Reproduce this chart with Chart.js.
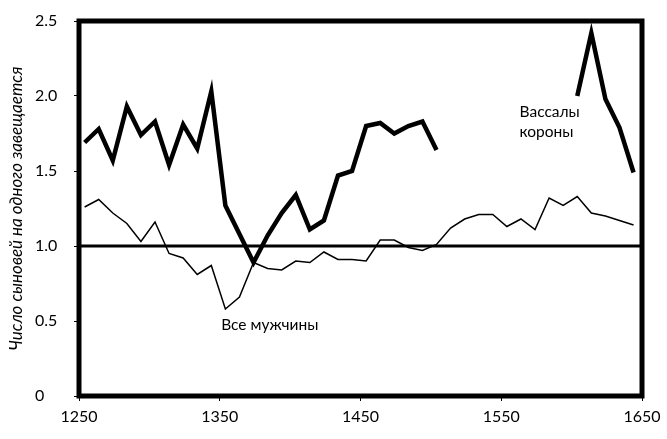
<!DOCTYPE html>
<html>
<head>
<meta charset="utf-8">
<script src="https://cdn.jsdelivr.net/npm/chart.js@4.4.1/dist/chart.umd.min.js"></script>
<style>
  html, body { margin: 0; padding: 0; background: #fff; }
  #wrap { width: 667px; height: 439px; }
</style>
</head>
<body>
<div id="wrap"><canvas id="grafica" width="667" height="439"></canvas></div>
<script>
// годы (середина десятилетия)
const anos = [1254, 1264, 1274, 1284, 1294, 1304, 1314, 1324, 1334, 1344,
              1354, 1364, 1374, 1384, 1394, 1404, 1414, 1424, 1434, 1444,
              1454, 1464, 1474, 1484, 1494, 1504, 1514, 1524, 1534, 1544,
              1554, 1564, 1574, 1584, 1594, 1604, 1614, 1624, 1634, 1644];

const vasallos = [1.69, 1.78, 1.57, 1.93, 1.74, 1.83, 1.54, 1.81, 1.65, 2.03,
                  1.27, 1.08, 0.89, 1.07, 1.22, 1.34, 1.11, 1.17, 1.47, 1.50,
                  1.80, 1.82, 1.75, 1.80, 1.83, 1.64, null, null, null, null,
                  null, null, null, null, null, 2.00, 2.42, 1.98, 1.79, 1.49];

const todos = [1.26, 1.31, 1.22, 1.15, 1.03, 1.16, 0.95, 0.92, 0.81, 0.87,
               0.58, 0.66, 0.89, 0.85, 0.84, 0.90, 0.89, 0.96, 0.91, 0.91,
               0.90, 1.04, 1.04, 0.99, 0.97, 1.01, 1.12, 1.18, 1.21, 1.21,
               1.13, 1.18, 1.11, 1.32, 1.27, 1.33, 1.22, 1.20, 1.17, 1.14];

const lineaBase = [{x: 1250, y: 1}, {x: 1650, y: 1}];

const yEtiquetas = ["0", "0.5", "1.0", "1.5", "2.0", "2.5"];
const xEtiquetas = ["1250", "1350", "1450", "1550", "1650"];
const tituloY = "Число сыновей на одного завещается";

// подписи кривых: [текст, год, значение]
const notas = [
  ["Вассалы", 1563, 1.86],
  ["короны", 1563, 1.73],
  ["Все мужчины", 1351, 0.44]
];

const fuente = "Lato, 'Open Sans', sans-serif";

const marco = {
  id: "marco",
  afterDraw(chart) {
    const ctx = chart.ctx;
    const a = chart.chartArea;
    ctx.save();
    ctx.strokeStyle = "#000";
    ctx.lineWidth = 5;
    ctx.strokeRect(a.left, a.top, a.right - a.left, a.bottom - a.top);

    ctx.fillStyle = "#000";
    ctx.font = "15.5px " + fuente;
    ctx.textBaseline = "alphabetic";
    ctx.textAlign = "left";
    notas.forEach(n => {
      const x = chart.scales.x.getPixelForValue(n[1]);
      const y = chart.scales.y.getPixelForValue(n[2]);
      ctx.fillText(n[0], x, y);
    });

    ctx.translate(17, (a.top + a.bottom) / 2);
    ctx.rotate(-Math.PI / 2);
    ctx.font = "italic 17px " + fuente;
    ctx.textAlign = "center";
    ctx.textBaseline = "middle";
    ctx.fillText(tituloY, 0, 0);
    ctx.restore();
  }
};

const ctx = document.getElementById("grafica").getContext("2d");
new Chart(ctx, {
  type: "line",
  data: {
    labels: anos,
    datasets: [
      {
        data: anos.map((a, i) => ({x: a, y: vasallos[i]})),
        borderColor: "#000",
        borderWidth: 4.5,
        pointRadius: 0,
        spanGaps: false,
        borderJoinStyle: "miter"
      },
      {
        data: anos.map((a, i) => ({x: a, y: todos[i]})),
        borderColor: "#000",
        borderWidth: 1.5,
        pointRadius: 0
      },
      {
        data: lineaBase,
        borderColor: "#000",
        borderWidth: 3,
        pointRadius: 0
      }
    ]
  },
  options: {
    responsive: false,
    animation: false,
    layout: { padding: { left: 35, top: 21, right: 25, bottom: 0 } },
    plugins: { legend: { display: false }, tooltip: { enabled: false } },
    scales: {
      x: {
        type: "linear",
        min: 1250,
        max: 1650,
        afterFit(s) { s.height = 43; },
        ticks: {
          stepSize: 100,
          color: "#000",
          font: { family: fuente, size: 16 },
          padding: 6,
          maxRotation: 0,
          callback: (v, i) => xEtiquetas[i]
        },
        grid: { drawOnChartArea: false, drawTicks: true, tickLength: 5, tickColor: "#000", lineWidth: 1 },
        border: { display: false }
      },
      y: {
        min: 0,
        max: 2.5,
        afterFit(s) { s.width = 44; },
        ticks: {
          stepSize: 0.5,
          color: "#000",
          crossAlign: "far",
          font: { family: fuente, size: 16 },
          callback: (v, i) => yEtiquetas[i]
        },
        grid: { drawOnChartArea: false, drawTicks: true, tickLength: 5, tickColor: "#000", lineWidth: 1 },
        border: { display: false }
      }
    }
  },
  plugins: [marco]
});
</script>
</body>
</html>
